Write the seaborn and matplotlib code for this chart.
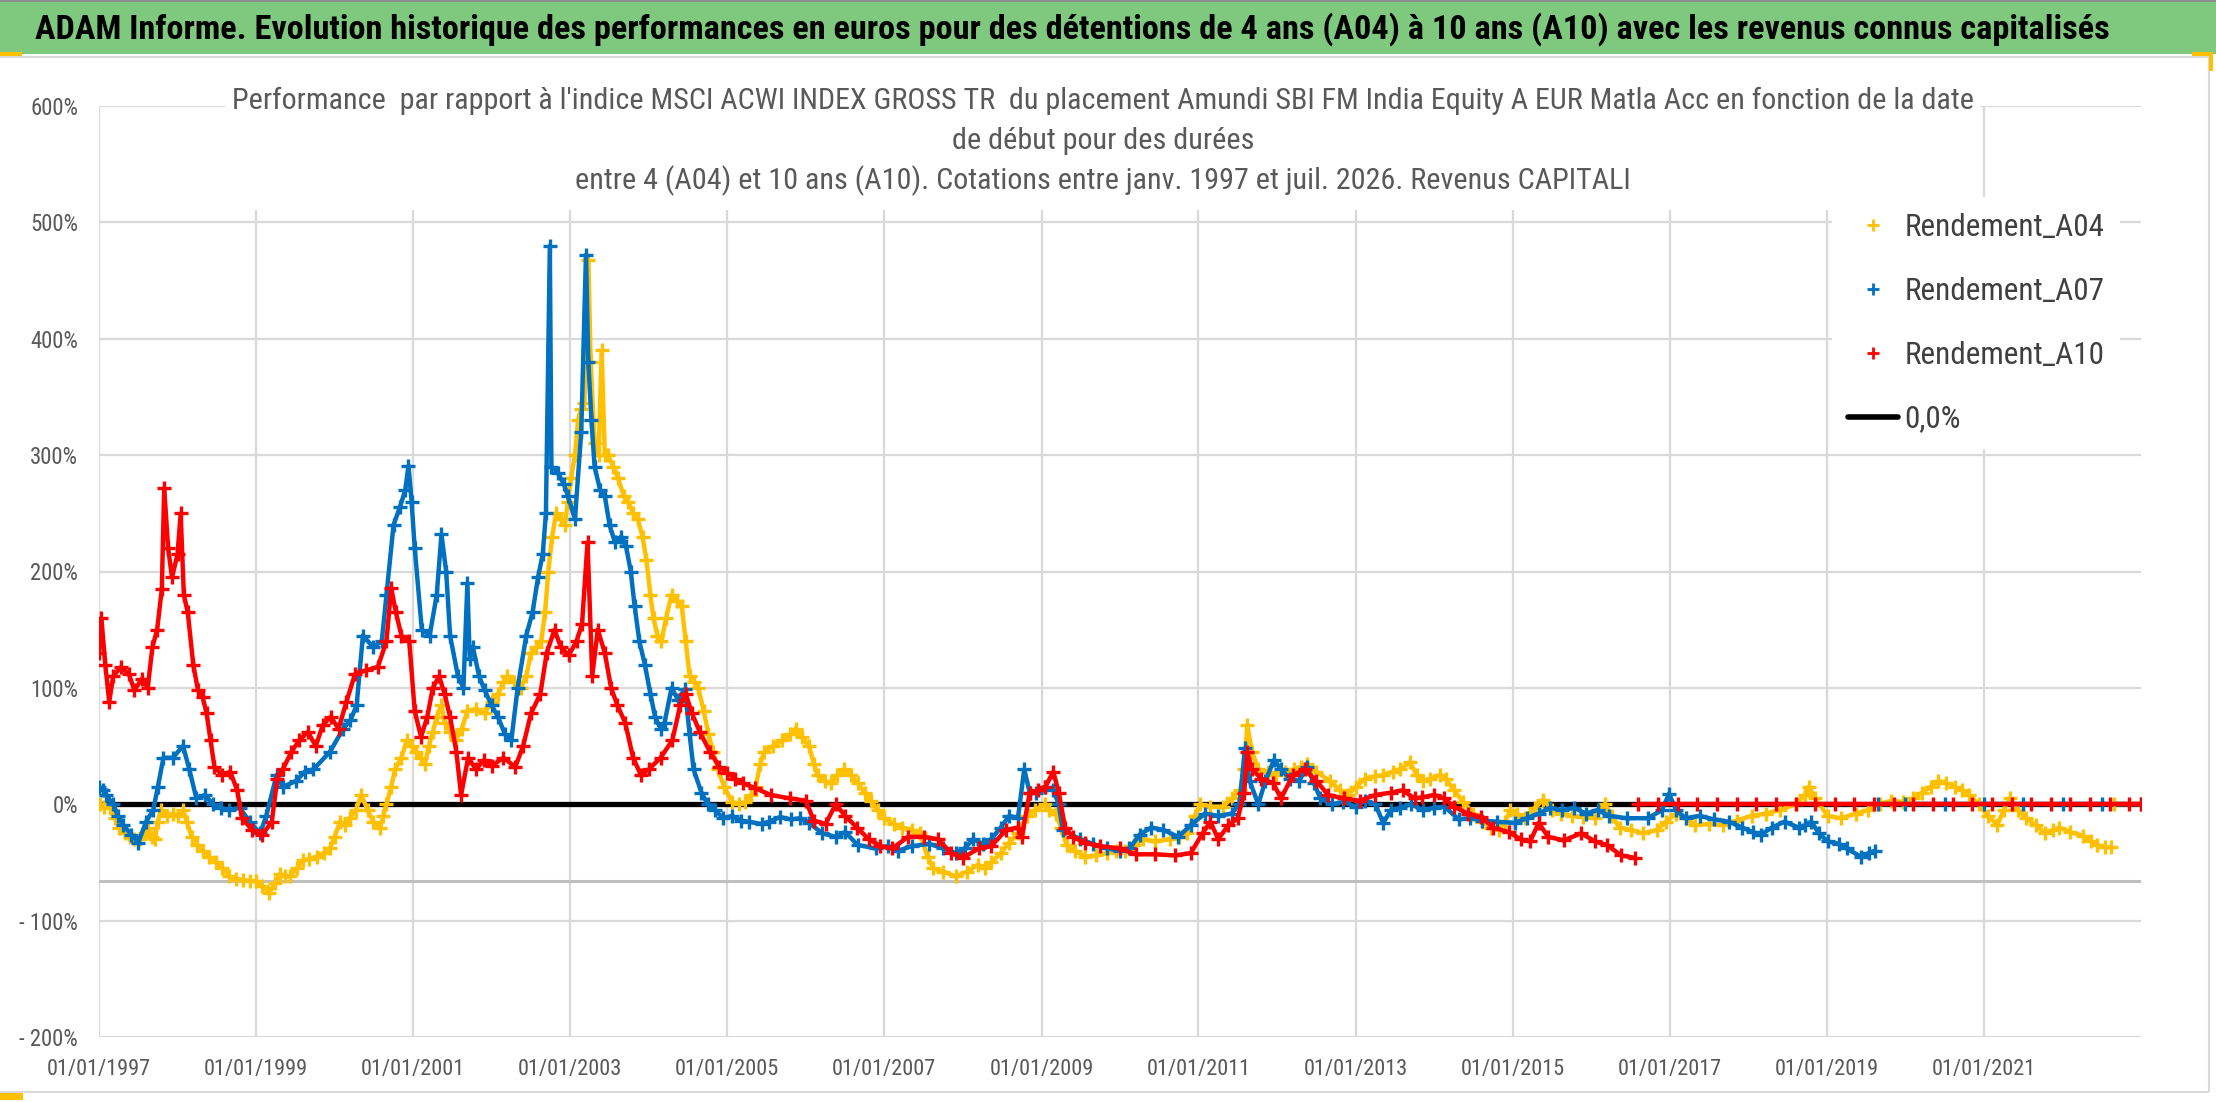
import os
import numpy as np
import pandas as pd
import matplotlib
matplotlib.use("Agg")
import matplotlib.pyplot as plt
from matplotlib.patches import Rectangle
from matplotlib.lines import Line2D
from matplotlib import font_manager as fm
import seaborn as sns

# ---------------- DATA ----------------
a10_years = [1997.00, 1997.03, 1997.08, 1997.13, 1997.18, 1997.28, 1997.38, 1997.45, 1997.55, 1997.62,
             1997.68, 1997.74, 1997.80, 1997.83, 1997.88, 1997.93, 1998.00, 1998.04, 1998.08, 1998.13,
             1998.20, 1998.26, 1998.32, 1998.37, 1998.42, 1998.47, 1998.57, 1998.67, 1998.76, 1998.82,
             1998.95, 1999.08, 1999.20, 1999.27, 1999.34, 1999.45, 1999.55, 1999.66, 1999.76, 1999.85,
             1999.95, 2000.05, 2000.15, 2000.26, 2000.40, 2000.55, 2000.66, 2000.72, 2000.78, 2000.85,
             2000.95, 2001.02, 2001.10, 2001.18, 2001.25, 2001.33, 2001.40, 2001.47, 2001.55, 2001.61,
             2001.70, 2001.80, 2001.90, 2002.00, 2002.15, 2002.30, 2002.40, 2002.50, 2002.62, 2002.70,
             2002.80, 2002.88, 2002.98, 2003.08, 2003.15, 2003.22, 2003.28, 2003.35, 2003.44, 2003.52,
             2003.60, 2003.70, 2003.80, 2003.90, 2004.00, 2004.15, 2004.30, 2004.40, 2004.47, 2004.55,
             2004.65, 2004.78, 2004.90, 2005.00, 2005.10, 2005.20, 2005.35, 2005.55, 2005.80, 2006.00,
             2006.10, 2006.25, 2006.38, 2006.50, 2006.65, 2006.80, 2006.95, 2007.10, 2007.30, 2007.50,
             2007.68, 2007.85, 2008.00, 2008.20, 2008.36, 2008.55, 2008.70, 2008.75, 2008.85, 2008.95,
             2009.05, 2009.15, 2009.22, 2009.30, 2009.40, 2009.55, 2009.75, 2010.00, 2010.20, 2010.45,
             2010.70, 2010.90, 2011.05, 2011.15, 2011.25, 2011.38, 2011.50, 2011.58, 2011.62, 2011.68,
             2011.80, 2011.95, 2012.05, 2012.20, 2012.35, 2012.50, 2012.65, 2012.85, 2013.05, 2013.25,
             2013.45, 2013.60, 2013.75, 2013.85, 2014.00, 2014.13, 2014.25, 2014.43, 2014.60, 2014.75,
             2014.95, 2015.10, 2015.22, 2015.33, 2015.45, 2015.65, 2015.87, 2016.05, 2016.20, 2016.38,
             2016.55]
a10_values = [130, 160, 120, 88, 110, 118, 112, 98, 108, 100,
              135, 150, 185, 272, 220, 195, 215, 250, 180, 165,
              120, 98, 92, 78, 55, 32, 25, 28, 12, -12,
              -22, -26, -15, 22, 30, 45, 55, 62, 50, 68,
              75, 65, 88, 112, 115, 118, 140, 186, 165, 145,
              140, 80, 58, 75, 100, 110, 95, 75, 45, 8,
              40, 30, 38, 33, 40, 32, 50, 78, 95, 130,
              150, 135, 128, 140, 155, 225, 110, 150, 130, 100,
              85, 70, 40, 25, 30, 40, 55, 85, 95, 78,
              62, 45, 32, 27, 22, 18, 14, 8, 5, 3,
              -14, -17, 0, -10, -20, -30, -36, -38, -28, -28,
              -30, -42, -46, -38, -36, -22, -20, -28, 10, 12,
              15, 28, 10, -20, -28, -33, -36, -38, -43, -43,
              -44, -42, -25, -15, -30, -18, -12, 10, 45, 30,
              22, 18, 5, 25, 30, 20, 8, 5, 3, 8,
              10, 12, 5, 6, 8, 5, -2, -8, -11, -20,
              -24, -30, -32, -16, -28, -31, -25, -32, -35, -44,
              -46]
a10_tail_years = [2016.60, 2016.85, 2017.10, 2017.35, 2017.60, 2017.85, 2018.10, 2018.35, 2018.60, 2018.85,
                  2019.10, 2019.35, 2019.60, 2019.85, 2020.10, 2020.35, 2020.60, 2020.85, 2021.10, 2021.35,
                  2021.60, 2021.85, 2022.10, 2022.35, 2022.60, 2022.85, 2023.00]
a10_tail_values = [0, 0, 0, 0, 0, 0, 0, 0, 0, 0,
                   0, 0, 0, 0, 0, 0, 0, 0, 0, 0,
                   0, 0, 0, 0, 0, 0, 0]

a07_years = [1997.00, 1997.05, 1997.09, 1997.18, 1997.24, 1997.31, 1997.41, 1997.50, 1997.60, 1997.69,
             1997.75, 1997.82, 1997.94, 1998.07, 1998.15, 1998.24, 1998.35, 1998.45, 1998.55, 1998.66,
             1998.79, 1998.92, 1999.05, 1999.13, 1999.26, 1999.34, 1999.51, 1999.62, 1999.73, 1999.94,
             2000.11, 2000.20, 2000.28, 2000.36, 2000.49, 2000.60, 2000.66, 2000.75, 2000.83, 2000.90,
             2000.94, 2000.98, 2001.02, 2001.11, 2001.21, 2001.30, 2001.36, 2001.42, 2001.47, 2001.57,
             2001.64, 2001.69, 2001.72, 2001.76, 2001.84, 2001.91, 2002.00, 2002.08, 2002.17, 2002.25,
             2002.33, 2002.44, 2002.52, 2002.59, 2002.65, 2002.69, 2002.74, 2002.76, 2002.84, 2002.92,
             2002.97, 2003.06, 2003.14, 2003.20, 2003.23, 2003.27, 2003.31, 2003.38, 2003.44, 2003.50,
             2003.57, 2003.65, 2003.71, 2003.77, 2003.82, 2003.88, 2003.95, 2004.02, 2004.08, 2004.15,
             2004.20, 2004.29, 2004.37, 2004.46, 2004.52, 2004.57, 2004.67, 2004.75, 2004.84, 2004.95,
             2005.06, 2005.17, 2005.27, 2005.44, 2005.53, 2005.67, 2005.81, 2005.93, 2006.04, 2006.21,
             2006.38, 2006.50, 2006.66, 2006.89, 2007.05, 2007.17, 2007.35, 2007.57, 2007.75, 2007.91,
             2008.02, 2008.13, 2008.25, 2008.36, 2008.48, 2008.59, 2008.70, 2008.78, 2008.85, 2008.93,
             2009.05, 2009.15, 2009.22, 2009.27, 2009.49, 2009.65, 2009.83, 2010.00, 2010.12, 2010.25,
             2010.40, 2010.55, 2010.74, 2010.90, 2011.08, 2011.25, 2011.42, 2011.52, 2011.59, 2011.65,
             2011.76, 2011.85, 2011.96, 2012.05, 2012.16, 2012.28, 2012.38, 2012.47, 2012.55, 2012.70,
             2012.84, 2013.00, 2013.12, 2013.25, 2013.35, 2013.45, 2013.57, 2013.70, 2013.86, 2014.00,
             2014.13, 2014.31, 2014.45, 2014.61, 2014.80, 2015.03, 2015.18, 2015.33, 2015.48, 2015.63,
             2015.78, 2015.93, 2016.08, 2016.23, 2016.45, 2016.72, 2016.90, 2016.99, 2017.08, 2017.20,
             2017.38, 2017.56, 2017.75, 2017.92, 2018.06, 2018.16, 2018.30, 2018.46, 2018.64, 2018.72,
             2018.80, 2018.90, 2019.01, 2019.15, 2019.25, 2019.43, 2019.53, 2019.61]
a07_values = [15, 12, 8, 0, -10, -18, -26, -33, -15, -5,
              15, 40, 40, 50, 30, 5, 8, 0, -3, -5,
              -3, -15, -25, -10, 25, 15, 20, 28, 30, 45,
              65, 72, 85, 145, 135, 140, 180, 240, 255, 270,
              291, 260, 220, 150, 145, 180, 232, 200, 145, 110,
              100, 190, 125, 135, 110, 98, 85, 75, 60, 55,
              100, 145, 165, 195, 215, 250, 480, 290, 285, 275,
              265, 245, 320, 472, 380, 330, 290, 270, 265, 240,
              225, 230, 222, 200, 170, 140, 120, 95, 75, 65,
              70, 100, 90, 99, 60, 30, 10, 0, -5, -12,
              -10, -14, -15, -17, -15, -11, -13, -12, -16, -25,
              -28, -24, -35, -38, -36, -40, -36, -34, -38, -42,
              -38, -30, -34, -30, -20, -10, -12, 30, 10, 10,
              15, 12, 0, -22, -30, -34, -38, -40, -38, -26,
              -20, -22, -28, -18, -8, -10, -8, 0, 48, 20,
              0, 20, 38, 30, 22, 20, 32, 18, 5, 0,
              2, -2, 3, 0, -16, -5, -3, 0, -5, -3,
              -2, -13, -12, -14, -15, -16, -12, -8, -3, -5,
              -3, -8, -5, -10, -12, -12, -5, 9, -5, -12,
              -10, -13, -15, -20, -24, -26, -20, -15, -20, -18,
              -15, -25, -32, -34, -38, -45, -42, -40]
a07_tail_years = [2019.65, 2020.00, 2020.50, 2021.00, 2021.50, 2022.00, 2022.50, 2023.00]
a07_tail_values = [0, 0, 0, 0, 0, 0, 0, 0]

a04_years = [1997.01, 1997.07, 1997.14, 1997.20, 1997.26, 1997.33, 1997.39, 1997.45, 1997.52, 1997.58,
             1997.62, 1997.67, 1997.71, 1997.75, 1997.79, 1997.87, 1997.94, 1998.00, 1998.07, 1998.12,
             1998.18, 1998.25, 1998.32, 1998.40, 1998.49, 1998.57, 1998.66, 1998.75, 1998.83, 1998.92,
             1999.00, 1999.08, 1999.17, 1999.24, 1999.30, 1999.37, 1999.43, 1999.52, 1999.60, 1999.68,
             1999.77, 1999.86, 1999.94, 2000.00, 2000.07, 2000.13, 2000.19, 2000.27, 2000.34, 2000.42,
             2000.49, 2000.58, 2000.62, 2000.66, 2000.72, 2000.77, 2000.85, 2000.92, 2000.98, 2001.04,
             2001.10, 2001.15, 2001.20, 2001.25, 2001.30, 2001.36, 2001.40, 2001.47, 2001.54, 2001.62,
             2001.69, 2001.80, 2001.91, 2002.00, 2002.08, 2002.15, 2002.20, 2002.28, 2002.37, 2002.44,
             2002.50, 2002.57, 2002.63, 2002.68, 2002.72, 2002.77, 2002.82, 2002.88, 2002.93, 2002.97,
             2003.01, 2003.06, 2003.10, 2003.14, 2003.18, 2003.23, 2003.26, 2003.31, 2003.36, 2003.40,
             2003.44, 2003.48, 2003.55, 2003.61, 2003.68, 2003.74, 2003.80, 2003.86, 2003.92, 2003.97,
             2004.02, 2004.06, 2004.11, 2004.16, 2004.22, 2004.29, 2004.36, 2004.42, 2004.47, 2004.52,
             2004.58, 2004.63, 2004.70, 2004.76, 2004.82, 2004.88, 2004.96, 2005.06, 2005.15, 2005.23,
             2005.30, 2005.36, 2005.42, 2005.47, 2005.58, 2005.70, 2005.80, 2005.87, 2005.95, 2006.04,
             2006.10, 2006.15, 2006.24, 2006.32, 2006.40, 2006.49, 2006.57, 2006.66, 2006.75, 2006.83,
             2006.92, 2007.00, 2007.12, 2007.23, 2007.35, 2007.45, 2007.55, 2007.62, 2007.75, 2007.91,
             2008.05, 2008.19, 2008.28, 2008.36, 2008.48, 2008.59, 2008.70, 2008.81, 2008.92, 2009.04,
             2009.10, 2009.18, 2009.25, 2009.32, 2009.43, 2009.55, 2009.70, 2009.83, 2009.95, 2010.06,
             2010.18, 2010.29, 2010.45, 2010.63, 2010.75, 2010.85, 2010.95, 2011.02, 2011.15, 2011.31,
             2011.42, 2011.53, 2011.58, 2011.62, 2011.68, 2011.76, 2011.88, 2011.99, 2012.10, 2012.21,
             2012.30, 2012.38, 2012.50, 2012.67, 2012.80, 2012.90, 2013.00, 2013.12, 2013.25, 2013.35,
             2013.47, 2013.57, 2013.69, 2013.78, 2013.86, 2013.95, 2014.07, 2014.15, 2014.25, 2014.37,
             2014.50, 2014.61, 2014.72, 2014.82, 2014.90, 2014.97, 2015.05, 2015.15, 2015.28, 2015.39,
             2015.50, 2015.62, 2015.75, 2015.90, 2016.05, 2016.17, 2016.26, 2016.36, 2016.50, 2016.66,
             2016.84, 2016.95, 2017.08, 2017.20, 2017.32, 2017.50, 2017.68, 2017.85, 2018.04, 2018.22,
             2018.40, 2018.60, 2018.72, 2018.77, 2018.85, 2019.01, 2019.18, 2019.37, 2019.52, 2019.67,
             2019.82, 2019.97, 2020.10, 2020.21, 2020.32, 2020.42, 2020.52, 2020.63, 2020.72, 2020.81,
             2020.93, 2021.05, 2021.17, 2021.25, 2021.33, 2021.43, 2021.54, 2021.66, 2021.78, 2021.88,
             2021.96, 2022.10, 2022.26, 2022.36, 2022.44, 2022.54, 2022.62]
a04_values = [0, -2, -3, -12, -20, -25, -28, -30, -30, -25,
              -20, -28, -30, -15, -5, -10, -8, -10, -5, -15,
              -28, -35, -40, -45, -50, -55, -62, -64, -65, -66,
              -66, -70, -76, -68, -60, -62, -62, -55, -48, -47,
              -45, -42, -38, -28, -15, -18, -12, -5, 8, -5,
              -15, -20, -10, 0, 15, 30, 40, 55, 50, 45,
              40, 35, 50, 62, 75, 85, 70, 62, 55, 65,
              80, 82, 78, 88, 95, 105, 110, 105, 100, 110,
              130, 135, 140, 165, 200, 230, 250, 245, 240, 260,
              280, 300, 330, 340, 345, 468, 380, 310, 300, 390,
              300, 300, 290, 280, 265, 260, 250, 245, 230, 210,
              180, 160, 145, 140, 160, 180, 175, 170, 140, 110,
              105, 100, 80, 60, 45, 30, 15, 2, 0, 2,
              8, 15, 35, 45, 50, 55, 60, 65, 58, 50,
              35, 25, 20, 18, 25, 30, 25, 18, 10, 3,
              -5, -12, -17, -20, -22, -25, -45, -55, -58, -62,
              -58, -52, -55, -50, -42, -33, -25, -10, -5, 0,
              -5, -8, -20, -35, -40, -45, -44, -42, -40, -40,
              -35, -30, -32, -30, -28, -25, -10, 0, -2, -2,
              5, 12, 30, 68, 45, 30, 28, 25, 28, 30,
              32, 35, 28, 20, 12, 8, 15, 22, 24, 25,
              28, 30, 36, 25, 20, 22, 25, 22, 12, 2,
              -8, -15, -20, -22, -15, -5, -8, -12, -3, 4,
              -5, -8, -10, -11, -12, 0, -10, -20, -22, -25,
              -22, -15, -8, -12, -18, -17, -18, -14, -10, -8,
              -5, 0, 8, 15, 5, -10, -12, -8, -5, 0,
              3, 2, 5, 10, 15, 20, 18, 15, 12, 8,
              0, -10, -18, -5, 5, -5, -12, -18, -25, -22,
              -20, -24, -27, -32, -35, -37, -37]
a04_tail_years = [2022.65, 2023.00]
a04_tail_values = [0, 0]

zero_years = [1997.00, 2023.00]
zero_values = [0, 0]
low_line_value = -66

series_names = ["Rendement_A04", "Rendement_A07", "Rendement_A10", "0,0%"]
series_colors = ["#FFC000", "#0070C0", "#FF0000", "#000000"]
y_ticks = [-200, -100, 0, 100, 200, 300, 400, 500, 600]
x_tick_years = [1997, 1999, 2001, 2003, 2005, 2007, 2009, 2011, 2013, 2015, 2017, 2019, 2021]

main_title = ("ADAM Informe. Evolution historique des performances en euros pour des détentions "
              "de 4 ans (A04) à 10 ans (A10) avec les revenus connus capitalisés")
sub_lines = ["Performance  par rapport à l'indice MSCI ACWI INDEX GROSS TR  du placement Amundi SBI FM "
             "India Equity A EUR Matla Acc en fonction de la date",
             "de début pour des durées",
             "entre 4 (A04) et 10 ans (A10). Cotations entre janv. 1997 et juil. 2026. Revenus CAPITALI"]

# ---------------- FONTS: look for a narrow / condensed face ----------------
W, H = 2216, 1102
sns.set_theme(style="white")
plt.rcParams["font.family"] = ["Liberation Sans", "DejaVu Sans"]

PREFS = ["liberationsansnarrow", "robotocondensed", "opensans_condensed", "opensanscondensed",
         "opensans-condensed", "notosans-condensed", "dejavusanscondensed", "ptsansnarrow",
         "arimonarrow", "condensed", "narrow"]
BAD = ["italic", "oblique", "semi", "extra", "ultra", "light", "thin", "medium", "black", "mono", "serif"]


def rank(base):
    for i, p in enumerate(PREFS):
        if base.startswith(p) or (p in ("condensed", "narrow") and p in base):
            return i
    return None


reg_files, bold_files = [], []
for f in fm.fontManager.ttflist:
    base = os.path.basename(f.fname).lower()
    if not ("condensed" in base or "narrow" in base):
        continue
    if any(b in base for b in BAD):
        continue
    r = rank(base)
    if r is None:
        continue
    if "bold" in base:
        bold_files.append((r, base, f.fname))
    else:
        reg_files.append((r, base, f.fname))
reg_files.sort()
bold_files.sort()

if reg_files:
    REG = reg_files[0][2]
    pref = reg_files[0][1].split("-")[0]
    same = [b for b in bold_files if b[1].split("-")[0] == pref]
    BOLD = same[0][2] if same else (bold_files[0][2] if bold_files else REG)
    fp_reg = fm.FontProperties(fname=REG)
    fp_bold = fm.FontProperties(fname=BOLD)
else:
    fp_reg = fm.FontProperties(family=["Liberation Sans", "DejaVu Sans"])
    fp_bold = fm.FontProperties(family=["Liberation Sans", "DejaVu Sans"], weight="bold")


def fp(base, size):
    p = base.copy()
    p.set_size(size)
    return p


fig = plt.figure(figsize=(W / 100, H / 100), dpi=100)
fig.patch.set_facecolor("white")
renderer = fig.canvas.get_renderer()


def fx(x):
    return x / W


def fy(y):
    return 1 - y / H


def measure(s, prop):
    t = fig.text(0, 0, s, fontproperties=prop)
    bb = t.get_window_extent(renderer)
    t.remove()
    return bb.width, bb.height


def size_for(s, target_w, base=None):
    base = fp_reg if base is None else base
    w, _ = measure(s, fp(base, 20))
    return 20 * target_w / w


def to_dates(years):
    yrs = np.asarray(years, dtype=float)
    return pd.Timestamp("1997-01-01") + pd.to_timedelta((yrs - 1997) * 365.25, unit="D")


def fig_line(x0, y0, x1, y1, color, lw, z=0):
    fig.add_artist(Line2D([fx(x0), fx(x1)], [fy(y0), fy(y1)], transform=fig.transFigure,
                          color=color, lw=lw, zorder=z, solid_capstyle="butt"))


# decorations: green title band, chart border, corner handles
fig.add_artist(Rectangle((0, fy(54)), 1, 54 / H, transform=fig.transFigure,
                         facecolor="#7FC97F", edgecolor="none", zorder=0))
fig.add_artist(Rectangle((0, fy(1.5)), 1, 1.5 / H, transform=fig.transFigure,
                         facecolor="#8C8C8C", edgecolor="none", zorder=0))
fig_line(0, 57, 2209, 57, "#D9D9D9", 1.5)
fig_line(2209, 57, 2209, 1092, "#D9D9D9", 1.5)
fig_line(0, 1092, 2209, 1092, "#D9D9D9", 1.5)
for (x0, y0, w0, h0) in [(0, 52, 22, 4), (2192, 52, 21, 4), (2209, 52, 4, 19), (0, 1093, 23, 7)]:
    fig.add_artist(Rectangle((fx(x0), fy(y0 + h0)), w0 / W, h0 / H, transform=fig.transFigure,
                             facecolor="#FFC000", edgecolor="none", zorder=8))

ts = size_for(main_title, 2072, fp_bold)
fig.text(fx(35), fy(29), main_title, fontproperties=fp(fp_bold, ts), color="black",
         ha="left", va="center", zorder=9)

# axes
ax = fig.add_axes([fx(99), fy(1037), (2141 - 99) / W, (1037 - 106) / H])
ax.set_facecolor("white")

sns.lineplot(x=to_dates(zero_years), y=zero_values, ax=ax, color=series_colors[3],
             lw=3.8, zorder=2, sort=False, estimator=None)
ax.axhline(low_line_value, color="#BFBFBF", lw=2.2, zorder=1)

mk = dict(marker="+", markersize=10, markeredgewidth=2.4, lw=3.2, sort=False, estimator=None)
for yrs, vals, c, z in [(a04_years, a04_values, series_colors[0], 3),
                        (a04_tail_years, a04_tail_values, series_colors[0], 3),
                        (a07_years, a07_values, series_colors[1], 4),
                        (a07_tail_years, a07_tail_values, series_colors[1], 4),
                        (a10_years, a10_values, series_colors[2], 5),
                        (a10_tail_years, a10_tail_values, series_colors[2], 5)]:
    sns.lineplot(x=to_dates(yrs), y=vals, ax=ax, color=c, markeredgecolor=c,
                 markerfacecolor=c, zorder=z, **mk)

ax.set_xlim(pd.Timestamp("1997-01-01"), pd.Timestamp("2023-01-01"))
ax.set_ylim(-200, 600)
ax.set_xticks([pd.Timestamp(f"{y}-01-01") for y in x_tick_years])
ax.set_xticklabels([f"01/01/{y}" for y in x_tick_years])
ax.set_yticks(y_ticks)
ax.set_yticklabels([f"{v}%" if v >= 0 else f"- {abs(v)}%" for v in y_ticks])
ax.set_xlabel("")
ax.set_ylabel("")
ax.grid(True, color="#D9D9D9", lw=1.6)
ax.set_axisbelow(True)
for sp in ax.spines.values():
    sp.set_visible(False)

xs = size_for("01/01/1997", 104)
ys = size_for("- 200%", 59)
ax.tick_params(axis="x", length=0, pad=16, labelcolor="#595959")
ax.tick_params(axis="y", length=0, pad=15, labelcolor="#595959")
for lab in ax.get_xticklabels():
    lab.set_fontproperties(fp(fp_reg, xs))
for lab in ax.get_yticklabels():
    lab.set_fontproperties(fp(fp_reg, ys))

# chart title in a white box
fig.add_artist(Rectangle((fx(225), fy(210)), (1980 - 225) / W, (210 - 84) / H, transform=fig.transFigure,
                         facecolor="white", edgecolor="none", zorder=5))
ss = size_for(sub_lines[2], 1052)
for line, yc in zip(sub_lines, [101, 141, 181]):
    fig.text(fx(1103), fy(yc), line, fontproperties=fp(fp_reg, ss), color="#595959",
             ha="center", va="center", zorder=6)

# legend
ls = size_for("Rendement_A04", 200)
fpx = ls * 100 / 72
_, th = measure("Rendement_A04", fp(fp_reg, ls))
handles = [Line2D([], [], ls="none", marker="+", color=c, markersize=8, markeredgewidth=2)
           for c in series_colors[:3]]
handles.append(Line2D([], [], color="black", lw=4))
bp = 0.5
leg = fig.legend(handles, series_names, loc="upper left",
                 bbox_to_anchor=(fx(1848 - bp * fpx), fy(227 - th / 2 - bp * fpx)),
                 frameon=True, facecolor="white", edgecolor="none", framealpha=1,
                 prop=fp(fp_reg, ls), handlelength=1.6, handletextpad=0.2,
                 labelspacing=max(0.2, (64 - th) / fpx), borderpad=bp, borderaxespad=0,
                 labelcolor="#404040", fancybox=False)
leg.set_zorder(7)

fig.savefig("out.png", dpi=100, facecolor="white")
